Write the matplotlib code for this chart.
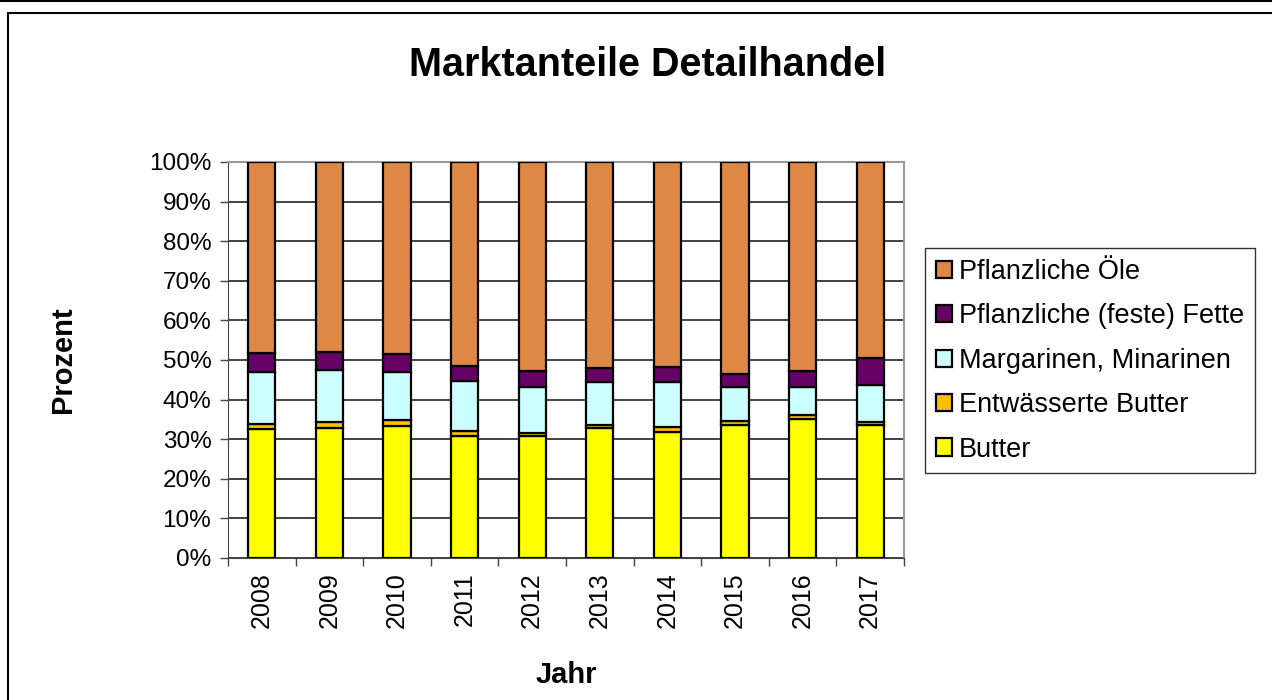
import numpy as np
import matplotlib
matplotlib.use("Agg")
import matplotlib.pyplot as plt
from matplotlib.patches import Rectangle
from matplotlib.lines import Line2D
from matplotlib.ticker import FixedLocator, PercentFormatter

plt.rcParams['font.family'] = ['Liberation Sans', 'DejaVu Sans']

years = ['2008', '2009', '2010', '2011', '2012', '2013', '2014', '2015', '2016', '2017']
butter = [32.5, 32.8, 33.4, 30.9, 30.7, 32.8, 31.8, 33.6, 35.2, 33.6]
entw_butter = [1.4, 1.5, 1.5, 1.2, 0.9, 0.8, 1.3, 1.1, 0.9, 0.7]
margarinen = [13.1, 13.2, 12.1, 12.6, 11.7, 10.8, 11.3, 8.6, 7.2, 9.3]
feste_fette = [4.7, 4.6, 4.4, 3.7, 3.9, 3.5, 3.8, 3.1, 3.9, 7.0]
oele = [48.3, 47.9, 48.6, 51.6, 52.8, 52.1, 51.8, 53.6, 52.8, 49.4]

series = [
    ("Butter", butter, "#FFFF00"),
    ("Entwässerte Butter", entw_butter, "#FFC000"),
    ("Margarinen, Minarinen", margarinen, "#CCFFFF"),
    ("Pflanzliche (feste) Fette", feste_fette, "#660066"),
    ("Pflanzliche Öle", oele, "#DD8844"),
]

fig = plt.figure(figsize=(12.72, 7), dpi=100)
W, H = 1272, 700
ax = fig.add_axes([228 / W, 1 - 558 / H, (904 - 228) / W, (558 - 162) / H])

x = np.arange(len(years))
data = np.array([s[1] for s in series])
totals = data.sum(axis=0)
bottom = np.zeros(len(years))
handles = []
for name, vals, col in series:
    pct = np.array(vals) / totals * 100
    b = ax.bar(x, pct, 0.4, bottom=bottom, color=col, edgecolor='black',
               linewidth=1.6, label=name, zorder=3)
    handles.append(b)
    bottom += pct

ax.set_xlim(-0.5, len(years) - 0.5)
ax.set_ylim(0, 100)
ax.yaxis.set_major_locator(FixedLocator(np.arange(0, 101, 10)))
ax.yaxis.set_major_formatter(PercentFormatter(decimals=0))
ax.yaxis.grid(True, color='#222222', linewidth=1.2, zorder=0)

ax.set_xticks(x)
ax.set_xticklabels(years, rotation=90, fontsize=18)
ax.set_xticks(np.arange(-0.5, len(years)), minor=True)
ax.tick_params(axis='x', which='major', length=0, pad=10)
ax.tick_params(axis='x', which='minor', length=6, width=1, color='#444444')
ax.tick_params(axis='y', length=6, width=1, color='#444444', labelsize=17.5, pad=6)

for side in ['top', 'right']:
    ax.spines[side].set_color('#999999')
    ax.spines[side].set_linewidth(1.5)
ax.spines['left'].set_color('#444444')
ax.spines['bottom'].set_color('#444444')

ax.set_ylabel('Prozent', fontsize=21, fontweight='bold', labelpad=52)
ax.set_xlabel('Jahr', fontsize=21, fontweight='bold', labelpad=24)
fig.text(648 / W, 1 - 65 / H, 'Marktanteile Detailhandel', fontsize=28.5,
         fontweight='bold', ha='center', va='center')

leg = fig.legend(handles[::-1], [s[0] for s in series][::-1],
                 loc='upper left', bbox_to_anchor=(925 / W, 1 - 248 / H),
                 fontsize=19.5, frameon=True, fancybox=False, edgecolor='black',
                 handlelength=0.6, handleheight=0.6, handletextpad=0.25,
                 labelspacing=0.68, borderpad=0.4, borderaxespad=0)
leg.get_frame().set_linewidth(1.0)

# outer chart border and top line
fig.add_artist(Rectangle((7.5 / W, -0.05), 1.2, 1 - 12.5 / H + 0.05,
                         transform=fig.transFigure, fill=False,
                         edgecolor='black', linewidth=1.5))
fig.add_artist(Line2D([0, 1], [1 - 1 / H, 1 - 1 / H], transform=fig.transFigure,
                      color='black', linewidth=1.5))

fig.savefig('out.png', dpi=100, facecolor='white')
